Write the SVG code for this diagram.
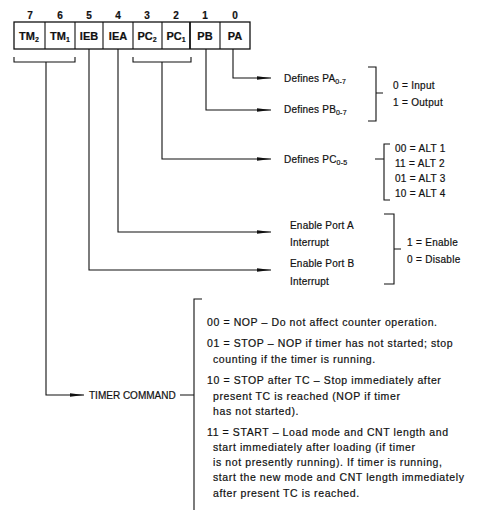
<svg xmlns="http://www.w3.org/2000/svg" width="485" height="513" viewBox="0 0 485 513">
<style>
text{font-family:"Liberation Sans",Arial,sans-serif;fill:#111;stroke:#111;stroke-width:0.2px;}
.bit{font-size:10px;font-weight:bold;text-anchor:middle;}
.cell{font-size:11px;font-weight:bold;text-anchor:middle;}
.lbl{font-size:10px;letter-spacing:0.2px;}
.opt{font-size:10px;letter-spacing:0.3px;}
.desc{font-size:10.5px;letter-spacing:0.6px;}
.sub{font-size:7px;}
.ln{fill:none;stroke:#111;stroke-width:1.1;}
.box{fill:#fff;stroke:#111;stroke-width:1.3;}
</style>
<defs>
<marker id="ah" markerUnits="userSpaceOnUse" markerWidth="16" markerHeight="8" refX="14" refY="4" orient="auto">
<path d="M0,2.2 L14,4 L0,5.8 Z" fill="#111"/>
</marker>
</defs>
<rect width="485" height="513" fill="#fff"/>

<g id="register">
<rect class="box" x="14" y="22" width="236" height="27"/>
<path class="ln" d="M45,22V49M75,22V49M103,22V49M133,22V49M162,22V49M220,22V49"/>
<path fill="none" stroke="#111" stroke-width="1.8" d="M190,22V49"/>
<text class="bit" x="30" y="19">7</text>
<text class="bit" x="60" y="19">6</text>
<text class="bit" x="89" y="19">5</text>
<text class="bit" x="118" y="19">4</text>
<text class="bit" x="147" y="19">3</text>
<text class="bit" x="176" y="19">2</text>
<text class="bit" x="205" y="19">1</text>
<text class="bit" x="235" y="19">0</text>
<text class="cell" x="29" y="40">TM<tspan class="sub" dy="2">2</tspan></text>
<text class="cell" x="60" y="40">TM<tspan class="sub" dy="2">1</tspan></text>
<text class="cell" x="89" y="40">IEB</text>
<text class="cell" x="118" y="40">IEA</text>
<text class="cell" x="147" y="40">PC<tspan class="sub" dy="2">2</tspan></text>
<text class="cell" x="176" y="40">PC<tspan class="sub" dy="2">1</tspan></text>
<text class="cell" x="205" y="40">PB</text>
<text class="cell" x="235" y="40">PA</text>
</g>

<g id="connectors">
<path class="ln" d="M233,49V78H271" marker-end="url(#ah)"/>
<path class="ln" d="M206,49V110H271" marker-end="url(#ah)"/>
<path class="ln" d="M133,57V62H191V57"/>
<path class="ln" d="M162,62V159H271" marker-end="url(#ah)"/>
<path class="ln" d="M118,49V232H271" marker-end="url(#ah)"/>
<path class="ln" d="M89,49V270H271" marker-end="url(#ah)"/>
<path class="ln" d="M14,57V62H75V57"/>
<path class="ln" d="M46,62V395H84" marker-end="url(#ah)"/>
</g>

<g id="port-ab">
<text class="lbl" x="284" y="82">Defines PA<tspan class="sub" dy="2">0-7</tspan></text>
<text class="lbl" x="284" y="113">Defines PB<tspan class="sub" dy="2">0-7</tspan></text>
<path class="ln" d="M368,67H376V121H368M376,93H383"/>
<text class="opt" x="393" y="89">0 = Input</text>
<text class="opt" x="393" y="106">1 = Output</text>
</g>

<g id="port-c">
<text class="lbl" x="284" y="163">Defines PC<tspan class="sub" dy="2">0-5</tspan></text>
<path class="ln" d="M390,144H384V200H390M375,159H384"/>
<text class="opt" x="395" y="152">00 = ALT 1</text>
<text class="opt" x="395" y="167">11 = ALT 2</text>
<text class="opt" x="395" y="182">01 = ALT 3</text>
<text class="opt" x="395" y="197">10 = ALT 4</text>
</g>

<g id="interrupts">
<text class="lbl" x="290" y="229">Enable Port A</text>
<text class="lbl" x="290" y="246">Interrupt</text>
<text class="lbl" x="290" y="267">Enable Port B</text>
<text class="lbl" x="290" y="285">Interrupt</text>
<path class="ln" d="M384,214H394V284H384M394,249H401"/>
<text class="opt" x="407" y="246">1 = Enable</text>
<text class="opt" x="407" y="263">0 = Disable</text>
</g>

<g id="timer">
<text class="lbl" x="89" y="399" style="letter-spacing:0px">TIMER COMMAND</text>
<path class="ln" d="M202,299H194V510M180,395H194"/>
<text class="desc" x="207" y="326">00 = NOP – Do not affect counter operation.</text>
<text class="desc" x="207" y="347">01 = STOP – NOP if timer has not started; stop</text>
<text class="desc" x="213" y="363">counting if the timer is running.</text>
<text class="desc" x="207" y="384">10 = STOP after TC – Stop immediately after</text>
<text class="desc" x="213" y="400">present TC is reached (NOP if timer</text>
<text class="desc" x="213" y="415">has not started).</text>
<text class="desc" x="207" y="436">11 = START – Load mode and CNT length and</text>
<text class="desc" x="213" y="451">start immediately after loading (if timer</text>
<text class="desc" x="213" y="466">is not presently running). If timer is running,</text>
<text class="desc" x="213" y="481">start the new mode and CNT length immediately</text>
<text class="desc" x="213" y="497">after present TC is reached.</text>
</g>
</svg>
